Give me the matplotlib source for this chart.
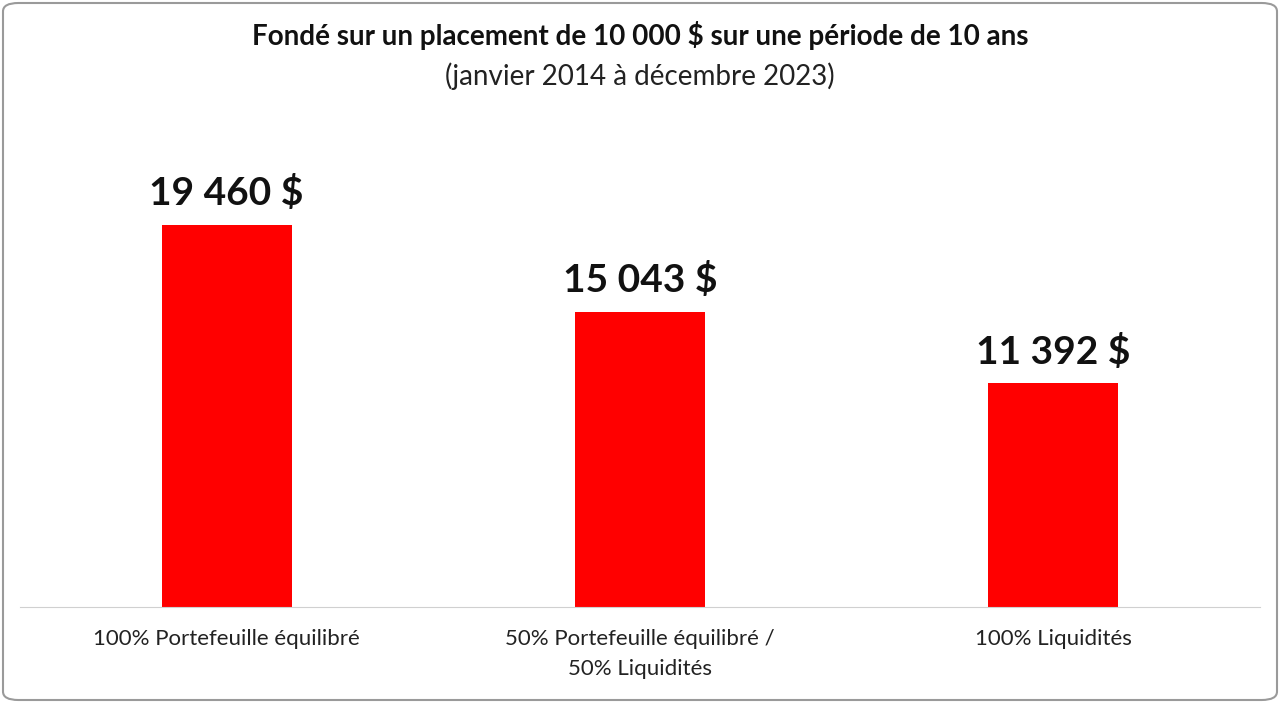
import matplotlib
matplotlib.use("Agg")
import matplotlib.pyplot as plt
from matplotlib.patches import FancyBboxPatch

categories = ["100% Portefeuille équilibré", "50% Portefeuille équilibré /\n50% Liquidités", "100% Liquidités"]
values = [19460, 15043, 11392]
labels = ["19 460 $", "15 043 $", "11 392 $"]

plt.rcParams["font.family"] = "Lato"
W, H = 1280, 703
fig = plt.figure(figsize=(W/100, H/100), dpi=100)
fig.patches.append(FancyBboxPatch((3/W, 3/H), 1-6/W, 1-6/H, boxstyle="round,pad=0,rounding_size=0.012",
                                  transform=fig.transFigure, fill=False, edgecolor="#9a9a9a", linewidth=1.5))
ax = fig.add_axes([20/W, (H-607)/H, 1240/W, (607-120)/H])
x = range(len(values))
ax.bar(x, values, width=0.314, color="#ff0000")
ax.set_xlim(-0.5, 2.5)
ax.set_ylim(0, 487*50.95)
for i, (v, l) in enumerate(zip(values, labels)):
    ax.text(i, v + 700, l, ha="center", va="bottom", fontsize=28, fontweight="bold", color="#111111")
for s in ["top", "right", "left"]:
    ax.spines[s].set_visible(False)
ax.spines["bottom"].set_color("#d0d0d0")
ax.set_yticks([])
ax.set_xticks(list(x))
ax.set_xticklabels(categories, fontsize=16, color="#222222", linespacing=1.6)
ax.tick_params(axis="x", length=0, pad=16)
fig.text(0.5, 1-35/H, "Fondé sur un placement de 10 000 $ sur une période de 10 ans", ha="center", va="center",
         fontsize=20, fontweight="bold", color="#111111")
fig.text(0.5, 1-76/H, "(janvier 2014 à décembre 2023)", ha="center", va="center", fontsize=20, color="#222222")
fig.savefig("out.png", dpi=100)
